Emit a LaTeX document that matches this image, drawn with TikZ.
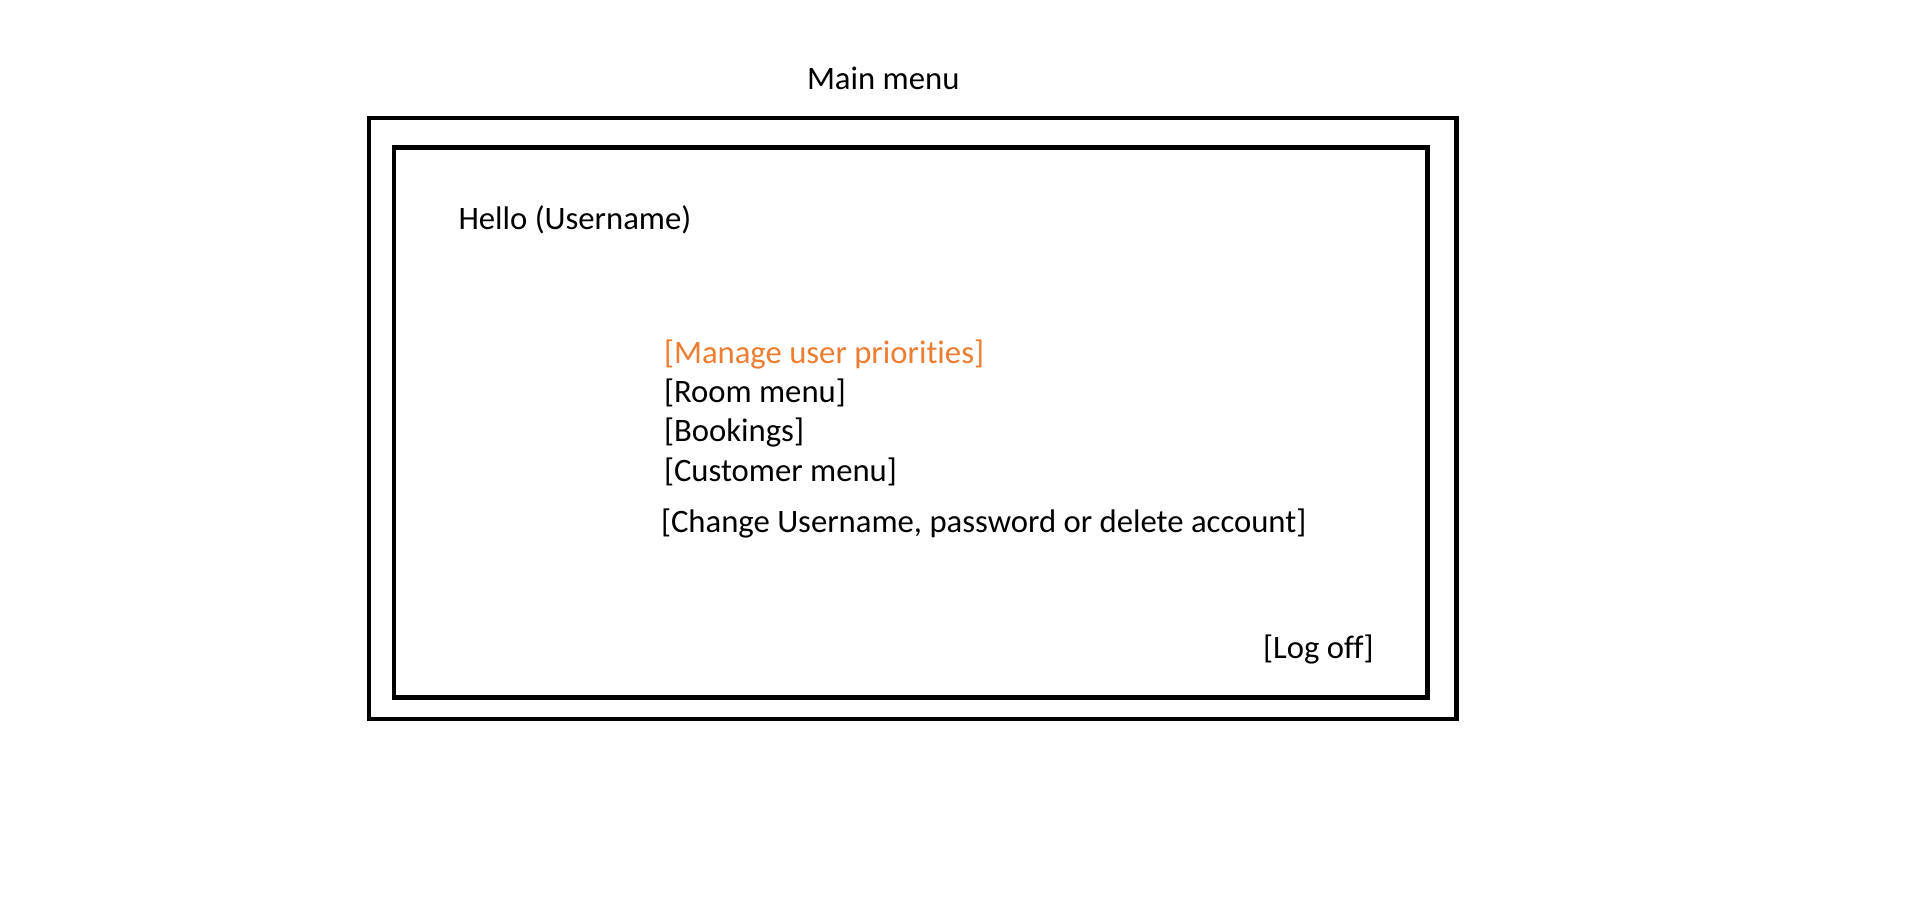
\documentclass[tikz,border=0pt]{standalone}
\usepackage{fontspec}
\setmainfont{Carlito}[Ligatures=NoCommon]
\definecolor{wordorange}{RGB}{237,125,49}
\begin{document}
\begin{tikzpicture}[x=1pt,y=-1pt,
  frame/.style={draw=black,line width=4.8pt,line join=miter},
  label/.style={anchor=base west,inner sep=0pt,outer sep=0pt,font=\fontsize{32.7}{40}\selectfont},
  menuitem/.style={label,text=black},
  hiitem/.style={label,text=wordorange}]
\useasboundingbox (0,0) rectangle (1914,903);
\fill[white] (0,0) rectangle (1914,903);
\coordinate (outerNW) at (369,118);
\coordinate (outerSE) at (1456.5,719);
\coordinate (innerNW) at (394,147.5);
\coordinate (innerSE) at (1427.5,697.5);
\draw[frame] (outerNW) rectangle (outerSE);
\draw[frame] (innerNW) rectangle (innerSE);
\node[label] (title) at (807,89) {Main menu};
\node[label] (hello) at (458.5,229) {Hello (Username)};
\node[hiitem] (manage) at (664,363) {[Manage user priorities]};
\node[menuitem] (room) at (664,402) {[Room menu]};
\node[menuitem] (bookings) at (664,441) {[Bookings]};
\node[menuitem] (customer) at (664,481) {[Customer menu]};
\node[menuitem] (change) at (661,532) {[Change Username, password or delete account]};
\node[menuitem] (logoff) at (1263,658) {[Log off]};
\end{tikzpicture}
\end{document}
